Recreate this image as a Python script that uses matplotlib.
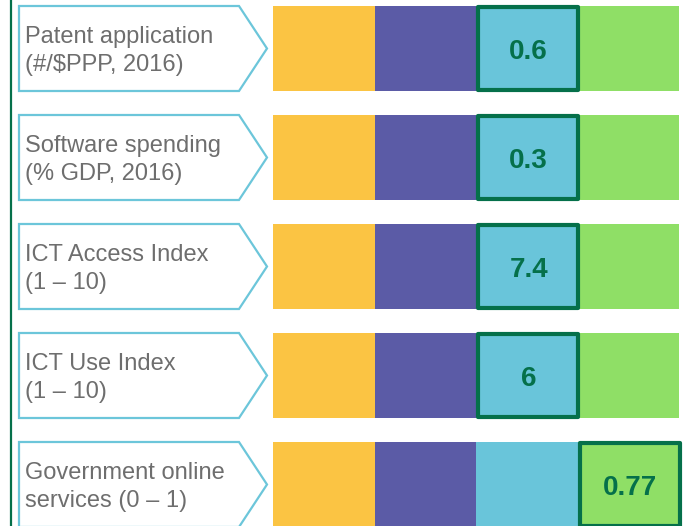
import matplotlib.pyplot as plt
from matplotlib.patches import Polygon, Rectangle

# data
labels = ["Patent application\n(#/$PPP, 2016)",
          "Software spending\n(% GDP, 2016)",
          "ICT Access Index\n(1 – 10)",
          "ICT Use Index\n(1 – 10)",
          "Government online\nservices (0 – 1)"]
values = ["0.6", "0.3", "7.4", "6", "0.77"]
highlight = [2, 2, 2, 2, 3]   # which segment holds the value
seg_colors = ["#FBC443", "#5B5BA6", "#69C5DA", "#8FDF66"]

dark_green = "#05704A"
arrow_edge = "#6CC6DA"
text_gray = "#6E6E6E"

# layout (pixels)
row_top0 = 6
row_pitch = 109
row_h = 85
bar_x0 = 273
seg_w = 101.5
box_x0 = 19
box_x1 = 239
tip_x = 267

fig = plt.figure(figsize=(6.92, 5.26), dpi=100)
ax = fig.add_axes([0, 0, 1, 1])
ax.set_xlim(0, 692)
ax.set_ylim(526, 0)
ax.axis("off")

# green rule on the left
ax.axvline(11, color=dark_green, lw=1.6)

for i, (lab, val) in enumerate(zip(labels, values)):
    top = row_top0 + i * row_pitch
    mid = top + row_h / 2
    bot = top + row_h

    # arrow shaped label box
    pts = [(box_x0, top), (box_x1, top), (tip_x, mid), (box_x1, bot), (box_x0, bot)]
    ax.add_patch(Polygon(pts, closed=True, facecolor="white",
                         edgecolor=arrow_edge, lw=1.6))
    ax.text(box_x0 + 6, mid + 2.5, lab, fontsize=17, color=text_gray,
            family="Liberation Sans", va="center", ha="left", linespacing=1.38)

    # coloured segments
    lefts = [bar_x0 + j * seg_w for j in range(len(seg_colors))]
    ax.barh(mid, seg_w, left=lefts, height=row_h, color=seg_colors, lw=0)

    # highlighted segment
    h = highlight[i]
    hx = bar_x0 + h * seg_w
    ax.add_patch(Rectangle((hx + 2, top + 1), seg_w - 1.5, row_h - 2,
                           facecolor="none", edgecolor=dark_green, lw=3,
                           joinstyle="round"))
    ax.text(hx + seg_w / 2 + 2, mid + 3.5, val, fontsize=20, fontweight="bold",
            color=dark_green, family="Liberation Sans", ha="center", va="center")

fig.savefig("out.png", dpi=100)
